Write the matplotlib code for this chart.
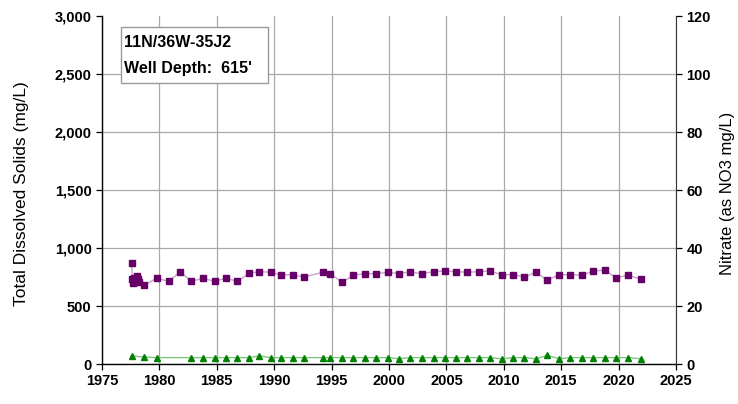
import numpy as np
import matplotlib.pyplot as plt
from matplotlib.patches import Rectangle

plt.rcParams['font.family'] = ['Liberation Sans', 'DejaVu Sans']

# data
tds_year = [1977.58, 1977.65, 1977.72, 1977.8, 1977.88, 1977.95, 1978.05, 1978.15, 1978.25,
            1978.65, 1979.76, 1980.83, 1981.8, 1982.77, 1983.8, 1984.8, 1985.76, 1986.8,
            1987.8, 1988.7, 1989.7, 1990.6, 1991.6, 1992.6, 1994.24, 1994.9, 1995.9,
            1996.9, 1997.87, 1998.85, 1999.9, 2000.9, 2001.8, 2002.85, 2003.9, 2004.85,
            2005.8, 2006.8, 2007.8, 2008.8, 2009.8, 2010.8, 2011.8, 2012.8, 2013.8,
            2014.8, 2015.8, 2016.8, 2017.8, 2018.8, 2019.8, 2020.8, 2021.96]
tds = [873, 730, 700, 745, 710, 725, 760, 735, 705,
       678, 739, 712, 796, 713, 739, 713, 739, 713,
       782, 796, 791, 767, 770, 750, 791, 778, 704,
       765, 778, 778, 791, 778, 796, 778, 796, 802,
       796, 791, 796, 802, 770, 770, 750, 791, 722,
       770, 770, 765, 802, 808, 741, 767, 730]

no3_year = [1977.58, 1978.65, 1979.76, 1982.77, 1983.8, 1984.8, 1985.76, 1986.8, 1987.8,
            1988.7, 1989.7, 1990.6, 1991.6, 1992.6, 1994.24, 1994.9, 1995.9, 1996.9,
            1997.87, 1998.85, 1999.9, 2000.9, 2001.8, 2002.85, 2003.9, 2004.85, 2005.8,
            2006.8, 2007.8, 2008.8, 2009.8, 2010.8, 2011.8, 2012.8, 2013.8, 2014.8,
            2015.8, 2016.8, 2017.8, 2018.8, 2019.8, 2020.8, 2021.96]
no3 = [2.8, 2.4, 2.2, 2.2, 2.2, 2.2, 2.2, 2.2, 2.2,
       2.8, 2.2, 2.2, 2.2, 2.2, 2.2, 2.2, 2.2, 2.2,
       2.2, 2.2, 2.2, 1.8, 2.2, 2.2, 2.2, 2.2, 2.2,
       2.2, 2.2, 2.2, 1.8, 2.2, 2.2, 1.8, 3.0, 1.8,
       2.2, 2.2, 2.2, 2.2, 2.2, 2.2, 1.8]

fig = plt.figure(figsize=(7.38, 4.04), dpi=100)
ax = fig.add_axes([102 / 738, 40 / 404, 574 / 738, 348 / 404])
ax2 = ax.twinx()

ax.plot(tds_year, tds, color='#c8a2c8', lw=1, marker='s', ms=5,
        mfc='#660066', mec='#660066', zorder=3)
ax2.plot(no3_year, no3, color='#7fc77f', lw=1, marker='^', ms=5,
         mfc='#008000', mec='#008000', zorder=3)

ax.set_xlim(1975, 2025)
ax.set_ylim(0, 3000)
ax2.set_ylim(0, 120)
ax.set_xticks(np.arange(1975, 2026, 5))
ax.set_yticks(np.arange(0, 3001, 500))
ax2.set_yticks(np.arange(0, 121, 20))
ax.set_yticklabels([f'{v:,}' for v in range(0, 3001, 500)])
ax.grid(True, color='#a8a8a8', lw=0.9)
ax.set_axisbelow(True)
# no line along the top edge
ax.yaxis.get_gridlines()[-1].set_visible(False)

for a in (ax, ax2):
    a.tick_params(direction='out', length=4, width=0.9, labelsize=10.5, colors='black')
    for lab in a.get_xticklabels() + a.get_yticklabels():
        lab.set_fontweight('bold')
    a.spines['top'].set_visible(False)

ax.spines['right'].set_visible(False)
ax2.spines['left'].set_visible(False)
ax2.spines['bottom'].set_visible(False)
ax2.spines['right'].set_color('#333333')
ax.spines['left'].set_linewidth(1)
ax.spines['bottom'].set_linewidth(1)

ax.set_ylabel('Total Dissolved Solids (mg/L)', fontsize=12.5)
ax2.set_ylabel('Nitrate (as NO3 mg/L)', fontsize=12)
ax.yaxis.set_label_coords(-0.127, 0.49)
ax2.yaxis.set_label_coords(1.077, 0.49)

# well info box
ax2.add_patch(Rectangle((0.0326, 0.8075), 0.2566, 0.16, transform=ax.transAxes,
                        fc='white', ec='#999999', lw=1, zorder=5))
ax2.text(0.039, 0.923, '11N/36W-35J2', transform=ax.transAxes, fontsize=11.5,
         fontweight='bold', va='center', ha='left', zorder=6)
ax2.text(0.039, 0.85, "Well Depth:  615'", transform=ax.transAxes, fontsize=11.5,
         fontweight='bold', va='center', ha='left', zorder=6)

fig.savefig('out.png', dpi=100)
